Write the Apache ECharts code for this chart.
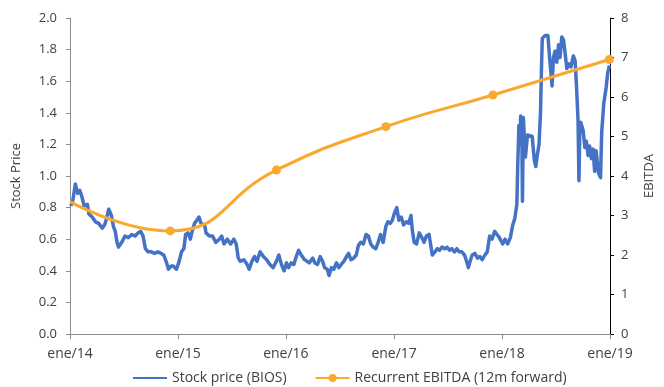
<!DOCTYPE html>
<html>
<head>
<meta charset="utf-8">
<script src="https://cdn.jsdelivr.net/npm/echarts@6/dist/echarts.min.js"></script>
<style>
  html, body { margin: 0; padding: 0; background: #fff; }
  #chart { width: 664px; height: 387px; }
</style>
</head>
<body>
<div id="chart"></div>
<script>
// Trading days counted from 1 Jan 2014, with the BIOS closing price on each
const priceDay = [
  3, 10, 18, 26, 33, 40, 48, 59, 64, 75, 86, 97, 109, 117, 122, 131, 140, 147, 153, 159,
  164, 175, 186, 197, 209, 220, 230, 239, 247, 255, 264, 275, 286, 297, 308, 317, 325, 333, 342, 349,
  360, 369, 377, 385, 391, 399, 407, 413, 421, 429, 436, 443, 455, 460, 471, 482, 493, 505, 513, 521,
  532, 543, 554, 562, 569, 576, 588, 599, 606, 615, 624, 632, 643, 654, 665, 676, 687, 698, 706, 715,
  724, 732, 739, 748, 757, 765, 773, 782, 793, 802, 809, 821, 828, 837, 846, 854, 861, 870, 876, 884,
  892, 901, 909, 917, 926, 935, 942, 950, 959, 968, 975, 983, 992, 1001, 1009, 1017, 1025, 1034, 1042, 1050,
  1059, 1068, 1075, 1083, 1090, 1098, 1105, 1112, 1120, 1128, 1137, 1145, 1153, 1158, 1164, 1172, 1181, 1190, 1197, 1205,
  1214, 1220, 1225, 1234, 1242, 1250, 1258, 1267, 1275, 1283, 1291, 1300, 1308, 1316, 1325, 1334, 1341, 1347, 1353, 1360,
  1369, 1378, 1386, 1394, 1403, 1411, 1419, 1427, 1436, 1444, 1452, 1457, 1463, 1471, 1480, 1489, 1497, 1504, 1511, 1514,
  1518, 1521, 1524, 1528, 1530, 1533, 1540, 1547, 1553, 1563, 1570, 1575, 1580, 1586, 1591, 1594, 1597, 1603, 1607, 1616,
  1623, 1630, 1635, 1640, 1646, 1652, 1657, 1663, 1669, 1674, 1680, 1687, 1694, 1702, 1708, 1713, 1718, 1721, 1724, 1727,
  1735, 1741, 1746, 1752, 1757, 1763, 1769, 1774, 1779, 1787, 1794, 1798, 1805, 1813, 1818, 1824
];
const stockPrice = [
  0.81, 0.85, 0.95, 0.89, 0.91, 0.87, 0.81, 0.82, 0.76, 0.74, 0.71, 0.70, 0.67, 0.69, 0.72, 0.79, 0.75, 0.68, 0.65, 0.58,
  0.55, 0.58, 0.62, 0.61, 0.63, 0.62, 0.64, 0.65, 0.62, 0.54, 0.52, 0.52, 0.51, 0.52, 0.51, 0.50, 0.46, 0.41, 0.43, 0.43,
  0.41, 0.46, 0.52, 0.54, 0.63, 0.64, 0.60, 0.65, 0.70, 0.72, 0.74, 0.70, 0.69, 0.64, 0.62, 0.62, 0.58, 0.60, 0.62, 0.57,
  0.60, 0.57, 0.60, 0.57, 0.48, 0.46, 0.47, 0.44, 0.41, 0.46, 0.49, 0.46, 0.52, 0.49, 0.47, 0.44, 0.42, 0.46, 0.50, 0.44,
  0.40, 0.45, 0.42, 0.45, 0.44, 0.49, 0.53, 0.50, 0.47, 0.46, 0.45, 0.48, 0.45, 0.44, 0.49, 0.46, 0.42, 0.41, 0.37, 0.42,
  0.41, 0.45, 0.42, 0.44, 0.46, 0.49, 0.51, 0.47, 0.48, 0.50, 0.56, 0.58, 0.57, 0.63, 0.62, 0.57, 0.55, 0.54, 0.58, 0.63,
  0.58, 0.68, 0.71, 0.70, 0.72, 0.77, 0.80, 0.72, 0.74, 0.69, 0.71, 0.70, 0.75, 0.65, 0.58, 0.57, 0.64, 0.61, 0.58, 0.62,
  0.63, 0.56, 0.50, 0.52, 0.54, 0.53, 0.55, 0.54, 0.55, 0.53, 0.54, 0.52, 0.54, 0.52, 0.52, 0.50, 0.46, 0.42, 0.46, 0.50,
  0.51, 0.48, 0.49, 0.47, 0.50, 0.52, 0.62, 0.60, 0.65, 0.63, 0.61, 0.62, 0.57, 0.60, 0.57, 0.61, 0.69, 0.73, 0.82, 1.07,
  1.32, 1.20, 1.38, 1.26, 0.84, 1.37, 1.12, 1.26, 1.25, 1.25, 1.10, 1.06, 1.13, 1.20, 1.40, 1.66, 1.87, 1.86, 1.89, 1.89,
  1.72, 1.57, 1.75, 1.79, 1.72, 1.83, 1.75, 1.88, 1.86, 1.78, 1.68, 1.71, 1.69, 1.76, 1.73, 1.56, 1.35, 0.97, 1.30, 1.34,
  1.29, 1.18, 1.22, 1.13, 1.19, 1.11, 1.17, 1.03, 1.16, 1.02, 0.99, 1.28, 1.46, 1.56, 1.65, 1.70
];

// Recurrent EBITDA estimates (12 months forward), days from 1 Jan 2014
const ebitdaDay = [0, 339, 698, 1068, 1430, 1824];
const ebitdaValue = [3.35, 2.61, 4.15, 5.25, 6.05, 6.95];

const leftTicks = { min: 0, max: 2, interval: 0.2 };
const rightTicks = { min: 0, max: 8, interval: 1 };

const seriesNames = ['Stock price (BIOS)', 'Recurrent EBITDA (12m forward)'];

function dayToTime(d) {
  return new Date(2014, 0, 1 + d).getTime();
}

const priceData = priceDay.map((d, i) => [dayToTime(d), stockPrice[i]]);
const ebitdaData = ebitdaDay.map((d, i) => {
  const item = { value: [dayToTime(d), ebitdaValue[i]] };
  if (i === 0) item.symbol = 'none';
  return item;
});

const textColor = '#404040';
const font = '"Open Sans", Lato, sans-serif';

const chart = echarts.init(document.getElementById('chart'), null, { renderer: 'canvas' });
chart.setOption({
  animation: false,
  backgroundColor: '#ffffff',
  textStyle: { fontFamily: font, color: textColor },
  grid: { left: 70, right: 45, top: 18, bottom: 53, containLabel: false },
  legend: {
    top: 366,
    left: 127,
    itemWidth: 34,
    itemHeight: 10,
    itemGap: 28,
    textStyle: { fontFamily: font, fontSize: 14, color: textColor },
    data: [
      // plain line key for the price series
      { name: seriesNames[0], itemStyle: { opacity: 0 } },
      { name: seriesNames[1] }
    ]
  },
  xAxis: {
    type: 'time',
    min: dayToTime(0),
    max: new Date(2019, 0, 1).getTime(),
    minInterval: 365 * 86400000,
    splitNumber: 5,
    axisLine: { lineStyle: { color: '#8c8c8c', width: 1 } },
    axisTick: { show: true, length: 5, lineStyle: { color: '#8c8c8c' } },
    splitLine: { show: false },
    axisLabel: {
      margin: 13,
      fontSize: 14,
      color: textColor,
      fontFamily: font,
      showMinLabel: true,
      showMaxLabel: true,
      formatter: function (v) {
        const d = new Date(v);
        return 'ene/' + String(d.getFullYear()).slice(2);
      }
    }
  },
  yAxis: [
    {
      type: 'value',
      min: leftTicks.min,
      max: leftTicks.max,
      interval: leftTicks.interval,
      name: 'Stock Price',
      nameLocation: 'middle',
      nameGap: 47,
      nameRotate: 90,
      nameTextStyle: { fontSize: 13, color: textColor, fontFamily: font },
      axisLine: { show: true, lineStyle: { color: '#8c8c8c' } },
      axisTick: { show: true, length: 4, lineStyle: { color: '#8c8c8c' } },
      splitLine: { show: false },
      axisLabel: {
        margin: 13,
        fontSize: 13,
        color: textColor,
        fontFamily: font,
        formatter: v => v.toFixed(1)
      }
    },
    {
      type: 'value',
      position: 'right',
      min: rightTicks.min,
      max: rightTicks.max,
      interval: rightTicks.interval,
      name: 'EBITDA',
      nameLocation: 'middle',
      nameGap: 33,
      nameRotate: 90,
      nameTextStyle: { fontSize: 13, color: textColor, fontFamily: font },
      axisLine: { show: true, lineStyle: { color: '#000000' } },
      axisTick: { show: true, length: 4, lineStyle: { color: '#000000' } },
      splitLine: { show: false },
      axisLabel: { margin: 11, fontSize: 13, color: textColor, fontFamily: font }
    }
  ],
  series: [
    {
      name: seriesNames[0],
      type: 'line',
      yAxisIndex: 0,
      data: priceData,
      symbol: 'none',
      smooth: false,
      lineStyle: { color: '#4472C4', width: 3.5, join: 'round' },
      itemStyle: { color: '#4472C4' },
      z: 2
    },
    {
      name: seriesNames[1],
      type: 'line',
      yAxisIndex: 1,
      data: ebitdaData,
      symbol: 'circle',
      symbolSize: 9,
      showSymbol: true,
      smooth: 0.5,
      lineStyle: { color: '#F9AA2E', width: 3 },
      itemStyle: { color: '#F9AA2E' },
      z: 3
    }
  ]
});
</script>
</body>
</html>
